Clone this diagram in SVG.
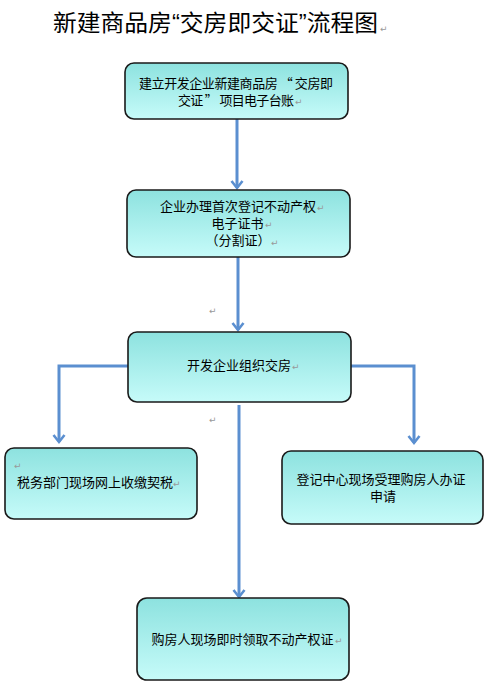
<svg xmlns="http://www.w3.org/2000/svg" width="494" height="689" viewBox="0 0 494 689">
<style>
.box{stroke:#1a1a1a;stroke-width:1.6;fill:url(#g)}
.t{font-family:"Noto Sans CJK SC","Noto Sans",sans-serif;font-size:13px;fill:#000}
.pm{font-family:"DejaVu Sans",sans-serif;font-size:9px;fill:#999}
.c{fill:none;stroke:#5b8fd0;stroke-width:3}
</style>
<defs>
<linearGradient id="g" x1="0" y1="0" x2="0" y2="1">
<stop offset="0" stop-color="#8de2df"/>
<stop offset="1" stop-color="#c6fbf9"/>
</linearGradient>
<marker id="a" markerUnits="userSpaceOnUse" markerWidth="14" markerHeight="14" viewBox="0 0 14 14" refX="11" refY="7" orient="auto">
<path d="M4,1.5 L11,7 L4,12.5" fill="none" stroke="#5b8fd0" stroke-width="2.6"/>
</marker>
</defs>
<rect width="494" height="689" fill="#fff"/>
<text x="53" y="31" font-family="'Liberation Sans','Noto Sans CJK SC',sans-serif" font-size="23" fill="#000" textLength="325" lengthAdjust="spacingAndGlyphs">新建商品房“交房即交证”流程图</text>
<text class="pm" x="380" y="32">↵</text>
<g id="connectors">
<path class="c" d="M237,119 V188" marker-end="url(#a)"/>
<path class="c" d="M238,257 V330" marker-end="url(#a)"/>
<path class="c" d="M128,366 H59 V442" marker-end="url(#a)"/>
<path class="c" d="M351,366 H414 V443" marker-end="url(#a)"/>
<path class="c" d="M239,405 V597" marker-end="url(#a)"/>
</g>
<text class="pm" x="209" y="314">↵</text>
<text class="pm" x="209" y="423">↵</text>
<g id="n1">
<rect class="box" x="125" y="63" width="223" height="56" rx="9"/>
<text class="t" x="139" y="88" textLength="194" lengthAdjust="spacing">建立开发企业新建商品房 “ 交房即</text>
<text class="t" x="178" y="105" textLength="116" lengthAdjust="spacing">交证 ” 项目电子台账</text>
<text class="pm" x="295" y="105">↵</text>
</g>
<g id="n2">
<rect class="box" x="127" y="190" width="223" height="67" rx="9"/>
<text class="t" x="238" y="211" text-anchor="middle">企业办理首次登记不动产权</text>
<text class="pm" x="317" y="211">↵</text>
<text class="t" x="237.5" y="228" text-anchor="middle">电子证书</text>
<text class="pm" x="265" y="228">↵</text>
<text class="t" x="238" y="245" text-anchor="middle">（分割证）</text>
<text class="pm" x="271" y="246">↵</text>
</g>
<g id="n3">
<rect class="box" x="128" y="332" width="223" height="70" rx="9"/>
<text class="t" x="239" y="370" text-anchor="middle">开发企业组织交房</text>
<text class="pm" x="292" y="370">↵</text>
</g>
<g id="n4">
<rect class="box" x="5" y="448" width="192" height="71" rx="9"/>
<text class="pm" x="14" y="469">↵</text>
<text class="t" x="17" y="487">税务部门现场网上收缴契税</text>
<text class="pm" x="173" y="487">↵</text>
</g>
<g id="n5">
<rect class="box" x="282" y="451" width="201" height="73" rx="9"/>
<text class="t" x="381" y="484" text-anchor="middle">登记中心现场受理购房人办证</text>
<text class="t" x="370" y="501">申请</text>
</g>
<g id="n6">
<rect class="box" x="137" y="598" width="212" height="82" rx="10"/>
<text class="t" x="242.5" y="644" text-anchor="middle">购房人现场即时领取不动产权证</text>
<text class="pm" x="335" y="644">↵</text>
</g>
</svg>
